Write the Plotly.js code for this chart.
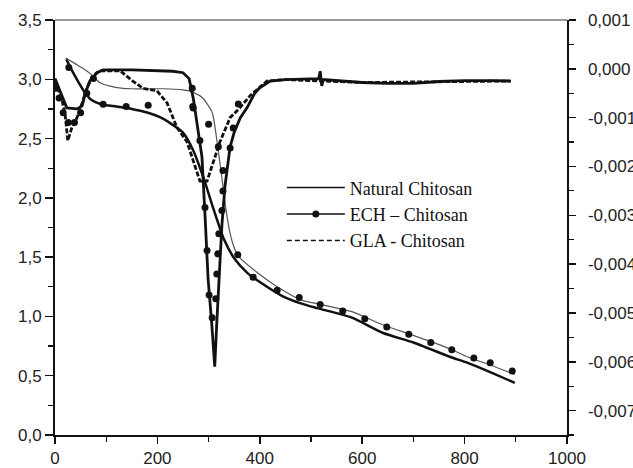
<!DOCTYPE html>
<html>
<head>
<meta charset="utf-8">
<script src="https://cdn.plot.ly/plotly-3.0.1.min.js"></script>
<style>html,body{margin:0;padding:0;background:#fff;}#chart{width:633px;height:468px;}</style>
</head>
<body>
<div id="chart"></div>
<script>
// ---- TGA curves (left axis) ----
const tgaNatT = [22, 30, 40, 55, 70, 90, 120, 150, 180, 205, 225, 250, 270, 290, 310, 330, 350, 375, 400, 445, 480, 512, 580, 641, 700, 771, 805, 850, 898];
const tgaNatM = [3.17, 3.10, 3.02, 2.91, 2.83, 2.79, 2.77, 2.75, 2.72, 2.68, 2.63, 2.55, 2.40, 2.17, 1.90, 1.65, 1.49, 1.37, 1.29, 1.17, 1.11, 1.07, 0.99, 0.86, 0.78, 0.66, 0.61, 0.53, 0.44];

const tgaGlaT = [21, 40, 55, 68, 88, 121, 150, 211, 250, 270, 289, 307, 316, 322, 328, 334, 342, 350, 360, 395, 434, 480, 520, 580, 640, 700, 770, 805, 850, 898];
const tgaGlaM = [3.18, 3.13, 3.09, 3.05, 2.97, 2.93, 2.92, 2.92, 2.91, 2.89, 2.84, 2.72, 2.49, 2.30, 2.10, 1.90, 1.70, 1.58, 1.50, 1.37, 1.25, 1.14, 1.10, 1.04, 0.93, 0.84, 0.73, 0.66, 0.59, 0.51];

const tgaEchT = [27, 94, 139, 182, 269, 300, 319, 328, 357, 387, 434, 477, 518, 562, 605, 648, 691, 734, 775, 818, 850, 893];
const tgaEchM = [3.10, 2.79, 2.77, 2.78, 2.77, 2.62, 2.43, 2.23, 1.52, 1.33, 1.22, 1.16, 1.10, 1.045, 0.98, 0.91, 0.85, 0.78, 0.72, 0.65, 0.61, 0.54];

// ---- DTG curves (right axis) ----
const dtgNatT = [0, 10, 23, 43, 53, 59, 68, 82, 94, 150, 186, 230, 250, 262, 270, 277, 283, 287, 293, 299, 306, 312, 316, 320, 326, 332, 342, 350, 362, 375, 390, 400, 420, 450, 500, 515, 518, 521, 524, 560, 600, 650, 700, 750, 800, 850, 890];
const dtgNatR = [-0.0002, -0.00045, -0.0008, -0.00082, -0.00076, -0.00051, -0.00025, -0.00008, -0.00002, -0.00002, -0.00004, -0.00005, -0.00008, -0.0002, -0.0006, -0.0011, -0.0015, -0.0018, -0.0030, -0.0043, -0.0052, -0.0061, -0.0052, -0.0043, -0.0032, -0.0024, -0.0016, -0.0013, -0.0010, -0.0008, -0.0005, -0.00039, -0.00025, -0.00022, -0.0002, -0.0002, -0.00005, -0.00035, -0.00022, -0.00025, -0.00028, -0.0003, -0.0003, -0.00026, -0.00024, -0.00024, -0.00025];

const dtgGlaT = [0, 13, 20, 25, 33, 43, 53, 62, 74, 88, 127, 140, 152, 172, 199, 219, 238, 258, 277, 283, 297, 309, 322, 342, 361, 381, 414, 450, 600, 890];
const dtgGlaR = [-0.00025, -0.0006, -0.00096, -0.00147, -0.0012, -0.001, -0.0007, -0.0004, -0.00014, -0.00004, -0.00004, -0.00015, -0.00025, -0.0004, -0.00045, -0.0007, -0.0012, -0.0015, -0.0021, -0.0023, -0.0023, -0.0019, -0.0015, -0.001, -0.0008, -0.00055, -0.00025, -0.00022, -0.00028, -0.00025];

const dtgEchT = [2, 8, 16, 26, 38, 50, 62, 75, 268, 270, 283, 293, 297, 301, 307, 314, 316, 318, 320, 326, 328, 342, 348, 358];
const dtgEchR = [-0.0004, -0.0006, -0.0009, -0.0011, -0.0011, -0.0009, -0.0005, -0.0002, -0.0004, -0.0008, -0.00147, -0.00284, -0.00372, -0.00463, -0.0051, -0.00471, -0.0042, -0.00379, -0.00338, -0.0029, -0.0025, -0.00162, -0.00121, -0.00072];

// ---- legend / ticks ----
const seriesNames = ["Natural Chitosan", "ECH \u2013 Chitosan", "GLA - Chitosan"];
const y2TickVals = [0.001, 0.0, -0.001, -0.002, -0.003, -0.004, -0.005, -0.006, -0.007];
const y2TickText = ["0,001", "0,000", "-0,001", "-0,002", "-0,003", "-0,004", "-0,005", "-0,006", "-0,007"];

const black = '#111';
const traces = [
  {x: tgaNatT, y: tgaNatM, mode: 'lines', line: {color: black, width: 2.5, shape: 'spline', smoothing: 0.6}, showlegend: false, yaxis: 'y'},
  {x: tgaGlaT, y: tgaGlaM, mode: 'lines', line: {color: '#555', width: 1.2, shape: 'spline', smoothing: 0.6}, showlegend: false, yaxis: 'y'},
  {x: tgaEchT, y: tgaEchM, mode: 'markers', marker: {color: black, size: 7, symbol: 'circle'}, showlegend: false, yaxis: 'y'},
  {x: dtgNatT, y: dtgNatR, mode: 'lines', line: {color: black, width: 2.8}, showlegend: false, yaxis: 'y2'},
  {x: dtgGlaT, y: dtgGlaR, mode: 'lines', line: {color: black, width: 2.8, dash: '5px,2px'}, showlegend: false, yaxis: 'y2'},
  {x: dtgEchT, y: dtgEchR, mode: 'markers', marker: {color: black, size: 7, symbol: 'circle'}, showlegend: false, yaxis: 'y2'},
  // legend entries
  {x: [null], y: [null], name: seriesNames[0], mode: 'lines', line: {color: black, width: 1.5}, yaxis: 'y'},
  {x: [null], y: [null], name: seriesNames[1], mode: 'lines+markers', line: {color: black, width: 1.5}, marker: {color: black, size: 7}, yaxis: 'y'},
  {x: [null], y: [null], name: seriesNames[2], mode: 'lines', line: {color: black, width: 1.5, dash: '5px,3px'}, yaxis: 'y'}
];

const tickFont = {family: 'Liberation Sans, Arial, sans-serif', size: 17, color: '#222'};
const layout = {
  width: 633, height: 468,
  margin: {l: 55, r: 66, t: 20, b: 33},
  paper_bgcolor: '#fff', plot_bgcolor: '#fff',
  separators: ', ',
  showlegend: true,
  legend: {x: 0.443, y: 0.64, xanchor: 'left', yanchor: 'top', bgcolor: 'rgba(0,0,0,0)', borderwidth: 0,
           font: {family: 'Liberation Serif, Times New Roman, serif', size: 18, color: '#111'}, itemwidth: 58, tracegroupgap: 0},
  xaxis: {range: [0, 1000], tick0: 0, dtick: 200, ticks: 'outside', ticklen: 7, tickwidth: 1.5, tickcolor: black,
          minor: {dtick: 100, ticks: 'outside', ticklen: 5, tickwidth: 1.2, tickcolor: black},
          showline: true, linewidth: 2, linecolor: black, showgrid: false, zeroline: false, tickfont: tickFont,
          ticklabelstandoff: 0},
  yaxis: {range: [0, 3.5], tick0: 0, dtick: 0.5, tickformat: '.1f', ticks: 'outside', ticklen: 8, tickwidth: 1.5, tickcolor: black,
          minor: {dtick: 0.25, ticks: 'outside', ticklen: 5, tickwidth: 1.2, tickcolor: black},
          showline: true, linewidth: 2, linecolor: black, showgrid: false, zeroline: false, tickfont: tickFont},
  yaxis2: {overlaying: 'y', side: 'right', range: [-0.0075, 0.001], tickmode: 'array', tickvals: y2TickVals, ticktext: y2TickText,
           ticks: 'outside', ticklen: 7, tickwidth: 1.5, tickcolor: black,
           minor: {tickvals: [0.0005, -0.0005, -0.0015, -0.0025, -0.0035, -0.0045, -0.0055, -0.0065, -0.0075], ticks: 'outside', ticklen: 5, tickwidth: 1.2, tickcolor: black},
           showline: true, linewidth: 1.5, linecolor: black, showgrid: false, zeroline: false, tickfont: tickFont, ticklabelstandoff: 9},
  shapes: [{type: 'line', xref: 'paper', yref: 'paper', x0: 0, x1: 1, y0: 1, y1: 1, line: {color: '#777', width: 1.5}}]
};

Plotly.newPlot('chart', traces, layout, {staticPlot: true, displayModeBar: false});
</script>
</body>
</html>
